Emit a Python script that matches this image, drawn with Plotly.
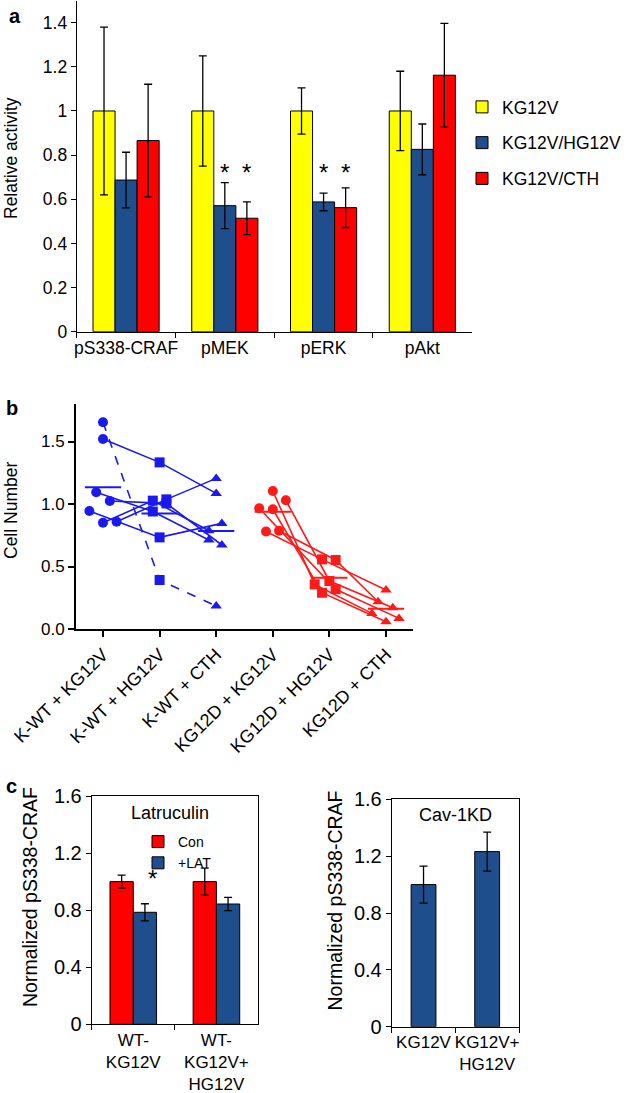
import numpy as np
import plotly.graph_objects as go

# ---------------- Panel a data ----------------
a_categories = ["pS338-CRAF", "pMEK", "pERK", "pAkt"]
a_series = ["KG12V", "KG12V/HG12V", "KG12V/CTH"]
a_kg12v = [1.0, 1.0, 1.0, 1.0]
a_kg12v_err = [0.38, 0.25, 0.105, 0.18]
a_hg12v = [0.687, 0.571, 0.588, 0.826]
a_hg12v_err = [0.126, 0.104, 0.04, 0.115]
a_cth = [0.866, 0.514, 0.562, 1.162]
a_cth_err = [0.255, 0.074, 0.09, 0.235]
a_yticks = [0, 0.2, 0.4, 0.6, 0.8, 1.0, 1.2, 1.4]
a_yticklabels = ["0", "0.2", "0.4", "0.6", "0.8", "1", "1.2", "1.4"]
a_star_groups = [1, 2]          # pMEK, pERK
a_star_level = 0.72

# ---------------- Panel b data ----------------
b_categories = ["K-WT + KG12V", "K-WT + HG12V", "K-WT + CTH",
                "KG12D + KG12V", "KG12D + HG12V", "KG12D + CTH"]
# blue: K-WT groups (paired per replicate)
b_wt_kg12v = [1.654, 1.52, 1.094, 1.024, 0.944, 0.858, 0.85]
b_wt_hg12v = [0.392, 1.333, 0.94, 1.005, 0.733, 1.037, 1.027]
b_wt_cth = [0.184, 1.085, 0.712, 0.672, 0.845, 1.205, 0.786]
b_wt_jit = [[0, 0, 0], [0, 0, 0], [-0.12, -0.12, -0.13], [0.12, 0.12, 0.1],
            [-0.24, 0, 0.1], [0.24, 0.12, 0], [0, -0.12, -0.13]]
b_wt_dashed = [True, False, False, False, False, False, False]
# red: KG12D groups
b_d_kg12v = [0.78, 0.786, 1.104, 1.03, 0.966, 0.958]
b_d_hg12v = [0.557, 0.552, 0.357, 0.384, 0.318, 0.29]
b_d_cth = [0.312, 0.218, 0.125, 0.17, 0.085, 0.058]
b_d_jit = [[-0.12, -0.13, 0], [0.11, 0.11, -0.14], [0, -0.26, -0.25],
           [0.23, 0, 0.12], [-0.24, 0.11, 0.23], [0, -0.13, 0]]
b_yticks = [0, 0.5, 1.0, 1.5]

# ---------------- Panel c data ----------------
c1_categories = ["WT-<br>KG12V", "WT-<br>KG12V+<br>HG12V"]
c1_con = [1.0, 1.0]
c1_con_err = [0.045, 0.095]
c1_lat = [0.785, 0.843]
c1_lat_err = [0.06, 0.047]
c2_categories = ["KG12V", "KG12V+<br>HG12V"]
c2_vals = [1.0, 1.232]
c2_err = [0.13, 0.137]
c_yticks = [0, 0.4, 0.8, 1.2, 1.6]
c_yticklabels = ["0", "0.4", "0.8", "1.2", "1.6"]

YELLOW = "#ffff00"
NAVY = "#1f4e8c"
RED = "#ff0000"
BBLUE = "#1a1aee"
BRED = "#ff1a1a"
FONT = "Liberation Sans, Arial, sans-serif"

W, H = 637, 1093
fig = go.Figure()

def px_x(p):
    return p / W

def px_y(p):
    return 1 - p / H

# ---------- Panel a bars ----------
bw = 0.2233
for name, vals, errs, col, off in [
        (a_series[0], a_kg12v, a_kg12v_err, YELLOW, -1.5 * bw),
        (a_series[1], a_hg12v, a_hg12v_err, NAVY, -0.5 * bw),
        (a_series[2], a_cth, a_cth_err, RED, 0.5 * bw)]:
    fig.add_trace(go.Bar(
        x=a_categories, y=vals, name=name, width=bw, offset=off,
        marker=dict(color=col, line=dict(color="black", width=1)),
        error_y=dict(type="data", array=errs, color="black", thickness=1.3, width=4),
        xaxis="x", yaxis="y", legend="legend", legendgroup=name))

# ---------- Panel b ----------
b_sym = ["circle", "square", "triangle-up"]
for i in range(len(b_wt_kg12v)):
    xs = [k + b_wt_jit[i][k] for k in range(3)]
    ys = [b_wt_kg12v[i], b_wt_hg12v[i], b_wt_cth[i]]
    fig.add_trace(go.Scatter(
        x=xs, y=ys, mode="lines+markers", showlegend=False,
        line=dict(color=BBLUE, width=1.6, dash="dash" if b_wt_dashed[i] else "solid"),
        marker=dict(symbol=b_sym, size=10, color=BBLUE),
        xaxis="x2", yaxis="y2"))
for i in range(len(b_d_kg12v)):
    xs = [3 + k + b_d_jit[i][k] for k in range(3)]
    ys = [b_d_kg12v[i], b_d_hg12v[i], b_d_cth[i]]
    fig.add_trace(go.Scatter(
        x=xs, y=ys, mode="lines+markers", showlegend=False,
        line=dict(color=BRED, width=1.6),
        marker=dict(symbol=b_sym, size=10, color=BRED),
        xaxis="x2", yaxis="y2"))
half = 0.32
for k, grp, col in [(0, b_wt_kg12v, BBLUE), (1, b_wt_hg12v, BBLUE), (2, b_wt_cth, BBLUE),
                    (3, b_d_kg12v, BRED), (4, b_d_hg12v, BRED), (5, b_d_cth, BRED)]:
    m = float(np.mean(grp))
    fig.add_trace(go.Scatter(
        x=[k - half, k + half], y=[m, m], mode="lines", showlegend=False,
        line=dict(color=col, width=2), xaxis="x2", yaxis="y2"))

# ---------- Panel c left ----------
cw = 0.28
fig.add_trace(go.Bar(
    x=c1_categories, y=c1_con, name="Con", width=cw, offset=-cw,
    marker=dict(color=RED, line=dict(color="black", width=1)),
    error_y=dict(type="data", array=c1_con_err, color="black", thickness=1.3, width=4),
    xaxis="x3", yaxis="y3", legend="legend2"))
fig.add_trace(go.Bar(
    x=c1_categories, y=c1_lat, name="+LAT", width=cw, offset=0,
    marker=dict(color=NAVY, line=dict(color="black", width=1)),
    error_y=dict(type="data", array=c1_lat_err, color="black", thickness=1.3, width=4),
    xaxis="x3", yaxis="y3", legend="legend2"))

# ---------- Panel c right ----------
fig.add_trace(go.Bar(
    x=c2_categories, y=c2_vals, width=0.39, showlegend=False,
    marker=dict(color=NAVY, line=dict(color="black", width=1)),
    error_y=dict(type="data", array=c2_err, color="black", thickness=1.3, width=4),
    xaxis="x4", yaxis="y4"))

axis_common = dict(showline=True, linecolor="black", ticks="outside", tickcolor="black",
                   showgrid=False, zeroline=False, automargin=False)

fig.update_layout(
    width=W, height=H, margin=dict(l=0, r=0, t=0, b=0, autoexpand=False),
    paper_bgcolor="white", plot_bgcolor="white",
    font=dict(family=FONT, color="black"),
    barmode="overlay",
    xaxis=dict(domain=[px_x(76.7), px_x(471.7)], type="category", range=[-0.5, 3.5],
               tickson="boundaries", ticklen=5, linewidth=1, tickfont=dict(size=17.5),
               tickangle=0, anchor="y", **axis_common),
    yaxis=dict(domain=[px_y(331.7), px_y(0.6)], range=[0, 1.5], tickvals=a_yticks,
               ticktext=a_yticklabels, ticklen=5, linewidth=1, tickfont=dict(size=17.5),
               anchor="x", **axis_common),
    xaxis2=dict(domain=[px_x(76), px_x(413)], range=[-0.477, 5.477], tickvals=list(range(6)),
                ticktext=b_categories, tickangle=-45, ticklen=6, tickwidth=2, linewidth=2,
                tickfont=dict(size=18), anchor="y2", **axis_common),
    yaxis2=dict(domain=[px_y(629), px_y(404)], range=[0, 1.8], tickvals=b_yticks,
                tickformat=".1f", ticklen=6, tickwidth=2, linewidth=2,
                tickfont=dict(size=17), anchor="x2", **axis_common),
    xaxis3=dict(domain=[px_x(91.7), px_x(258)], type="category", range=[-0.5, 1.5],
                tickson="boundaries", ticklen=5, linewidth=1, mirror=True, tickangle=0,
                tickfont=dict(size=17), anchor="y3", **axis_common),
    yaxis3=dict(domain=[px_y(1024.3), px_y(796)], range=[0, 1.6], tickvals=c_yticks,
                ticktext=c_yticklabels, ticklen=5, linewidth=1, mirror=True,
                tickfont=dict(size=20), anchor="x3", **axis_common),
    xaxis4=dict(domain=[px_x(391.7), px_x(519)], type="category", range=[-0.5, 1.5],
                tickson="boundaries", ticklen=5, linewidth=1, mirror=True, tickangle=0,
                tickfont=dict(size=17), anchor="y4", **axis_common),
    yaxis4=dict(domain=[px_y(1026.7), px_y(799.3)], range=[0, 1.6], tickvals=c_yticks,
                ticktext=c_yticklabels, ticklen=5, linewidth=1, mirror=True,
                tickfont=dict(size=20), anchor="x4", **axis_common),
    legend=dict(x=px_x(462), y=px_y(89), xanchor="left", yanchor="top",
                font=dict(size=17.5), bgcolor="rgba(0,0,0,0)", traceorder="grouped",
                tracegroupgap=10, itemwidth=30),
    legend2=dict(x=px_x(138), y=px_y(826), xanchor="left", yanchor="top",
                 font=dict(size=14), bgcolor="rgba(0,0,0,0)", itemwidth=30,
                 tracegroupgap=0),
)

ann = []
# asterisks panel a
for g in a_star_groups:
    for off in [0.0, bw]:
        ann.append(dict(x=g + off, y=a_star_level, xref="x", yref="y", text="*",
                        showarrow=False, font=dict(size=24), xanchor="center", yanchor="middle"))
# asterisk panel c
ann.append(dict(x=0.234, y=1.02, xref="x3", yref="y3", text="*", showarrow=False,
                font=dict(size=24), xanchor="center", yanchor="middle"))
# subplot titles
ann.append(dict(x=px_x(170), y=px_y(813), xref="paper", yref="paper", text="Latruculin",
                showarrow=False, font=dict(size=18), xanchor="center", yanchor="middle"))
ann.append(dict(x=px_x(455), y=px_y(815), xref="paper", yref="paper", text="Cav-1KD",
                showarrow=False, font=dict(size=18), xanchor="center", yanchor="middle"))
# axis titles
ann.append(dict(x=px_x(11), y=px_y(158), xref="paper", yref="paper", text="Relative activity",
                textangle=-90, showarrow=False, font=dict(size=17.5), xanchor="center", yanchor="middle"))
ann.append(dict(x=px_x(11), y=px_y(511), xref="paper", yref="paper", text="Cell Number",
                textangle=-90, showarrow=False, font=dict(size=17.5), xanchor="center", yanchor="middle"))
ann.append(dict(x=px_x(30), y=px_y(897), xref="paper", yref="paper", text="Normalized pS338-CRAF",
                textangle=-90, showarrow=False, font=dict(size=19.5), xanchor="center", yanchor="middle"))
ann.append(dict(x=px_x(334.5), y=px_y(901), xref="paper", yref="paper", text="Normalized pS338-CRAF",
                textangle=-90, showarrow=False, font=dict(size=19.5), xanchor="center", yanchor="middle"))
# panel letters
for t, xx, yy in [("a", 15, 16), ("b", 12, 408), ("c", 12, 786)]:
    ann.append(dict(x=px_x(xx), y=px_y(yy), xref="paper", yref="paper", text="<b>%s</b>" % t,
                    showarrow=False, font=dict(size=20), xanchor="center", yanchor="middle"))
fig.update_layout(annotations=ann)

# remove the default 8px page margin so the figure fills the window exactly
fig.write_html("out.html", config={"displayModeBar": False},
               post_script="document.body.style.margin='0';")
